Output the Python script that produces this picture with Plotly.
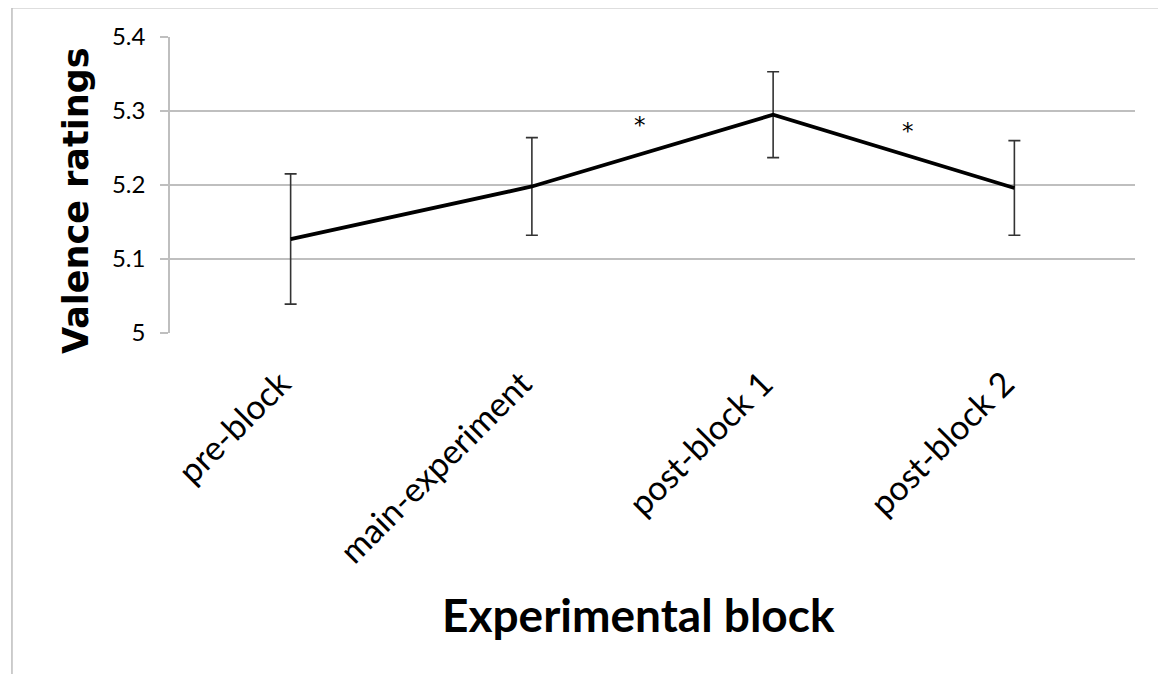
import plotly.graph_objects as go

blocks = ["pre-block", "main-experiment", "post-block 1", "post-block 2"]
valence = [5.127, 5.198, 5.295, 5.196]
err_up = [0.088, 0.066, 0.058, 0.064]
err_down = [0.088, 0.066, 0.058, 0.064]

sig_x = [1.45, 2.56]
sig_y = [5.286, 5.279]
sig_text = ["*", "*"]

# the page body adds an 8px margin, so the figure is 8px smaller
OFF = 8
W, H = 1166 - OFF, 674 - OFF
ML, MR, MT, MB = 170 - OFF, 31.3, 37.3 - OFF, 341.3
PW, PH = W - ML - MR, H - MT - MB


def px(X):  # screen x -> paper
    return (X - OFF - ML) / PW


def py(Y):  # screen y -> paper
    return (H - MB - (Y - OFF)) / PH


fig = go.Figure()
fig.add_trace(go.Scatter(
    x=blocks, y=valence, mode="lines",
    line=dict(color="black", width=3.8),
    error_y=dict(type="data", symmetric=False, array=err_up, arrayminus=err_down,
                 color="#333333", thickness=1.6, width=6),
    showlegend=False,
))

annotations = []
for sx, sy, st in zip(sig_x, sig_y, sig_text):
    annotations.append(dict(x=sx, y=sy, xref="x", yref="y", text=st, showarrow=False,
                            xanchor="center", yanchor="middle", yshift=-4,
                            font=dict(family="DejaVu Sans, sans-serif", size=23, color="black")))

annotations.append(dict(x=px(76), y=py(200), xref="paper", yref="paper",
                        xanchor="center", yanchor="middle",
                        text="<b>Valence ratings</b>", textangle=-90, showarrow=False,
                        font=dict(family="DejaVu Sans, sans-serif", size=35, color="black")))
annotations.append(dict(x=px(638), y=py(614), xref="paper", yref="paper",
                        xanchor="center", yanchor="middle",
                        text="<b>Experimental block</b>", showarrow=False,
                        font=dict(family="Lato, sans-serif", size=46, color="black")))

shapes = [dict(type="path", xref="paper", yref="paper",
               path=f"M {px(12)},{py(700)} L {px(12)},{py(8)} L {px(1163)},{py(8)} L {px(1163)},{py(700)}",
               line=dict(color="#BDBDBD", width=1.5))]

fig.update_layout(
    width=W, height=H,
    margin=dict(l=ML, r=MR, t=MT, b=MB, pad=0),
    paper_bgcolor="white", plot_bgcolor="white",
    annotations=annotations, shapes=shapes,
    xaxis=dict(type="category", range=[-0.5, 3.5], showgrid=False, showline=False,
               zeroline=False, ticks="", tickangle=-45,
               ticklabelstandoff=23, ticklabelshift=-10,
               tickfont=dict(family="Lato, sans-serif", size=34, color="black")),
    yaxis=dict(range=[5, 5.4], tickvals=[5, 5.1, 5.2, 5.3, 5.4],
               ticktext=["5", "5.1", "5.2", "5.3", "5.4"],
               showgrid=True, gridcolor="#BFBFBF", gridwidth=1.5,
               showline=True, linecolor="#BFBFBF", linewidth=1.5,
               ticks="outside", ticklen=8, tickcolor="#BFBFBF", tickwidth=1.5,
               zeroline=False, ticklabelstandoff=10,
               tickfont=dict(family="Lato, sans-serif", size=24, color="black")),
)

fig.write_html("out.html")
